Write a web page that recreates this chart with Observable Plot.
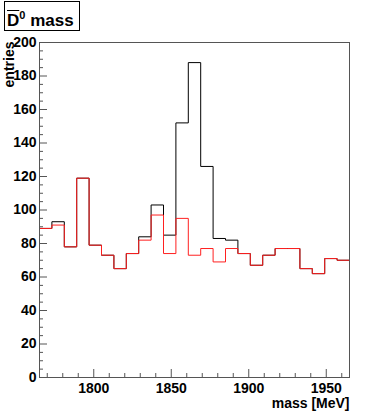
<!DOCTYPE html>
<html>
<head>
<meta charset="utf-8">
<script src="https://cdn.jsdelivr.net/npm/d3@7"></script>
<script src="https://cdn.jsdelivr.net/npm/@observablehq/plot@0.6"></script>
<style>
  html, body { margin: 0; padding: 0; background: #fff; }
  #wrap { position: relative; width: 382px; height: 419px; overflow: hidden; }
  #title {
    position: absolute; left: 4px; top: 1px; width: 76px; height: 30px;
    border: 1px solid #000; background: #fff; box-sizing: border-box;
    font-family: "Liberation Sans", Arial, sans-serif; font-weight: bold; font-size: 17px;
    color: #000; white-space: nowrap;
  }
  #title .txt { position: absolute; left: 2px; top: 9px; line-height: 20px; }
  #title .ov { text-decoration: overline; }
  #title sup { font-size: 11px; vertical-align: 7px; line-height: 0; }
</style>
</head>
<body>
<div id="wrap">
  <div id="chart"></div>
  <div id="title"><span class="txt"><span class="ov">D</span><sup>0</sup> mass</span></div>
</div>
<script>
// Bin low edges (MeV), bin width 8, range 1765–1965
const binLow = [1765, 1773, 1781, 1789, 1797, 1805, 1813, 1821, 1829, 1837, 1845, 1853, 1861,
                1869, 1877, 1885, 1893, 1901, 1909, 1917, 1925, 1933, 1941, 1949, 1957];
const binHighEnd = 1965;
// Black histogram (all candidates)
const blackCounts = [89, 93, 78, 119, 79, 73, 65, 74, 84, 103, 85, 152, 188,
                     126, 83, 82, 74, 67, 73, 77, 77, 65, 62, 71, 70];
// Red histogram (background)
const redCounts = [89, 91, 78, 119, 79, 73, 65, 74, 82, 97, 74, 95, 73,
                   77, 69, 77, 74, 67, 73, 77, 77, 65, 62, 71, 70];

const xMajor = [1800, 1850, 1900, 1950];
const xMinor = [1770, 1780, 1790, 1810, 1820, 1830, 1840, 1860, 1870, 1880, 1890,
                1910, 1920, 1930, 1940, 1960];
const yMajor = [0, 20, 40, 60, 80, 100, 120, 140, 160, 180, 200];
const yMinor = [5, 10, 15, 25, 30, 35, 45, 50, 55, 65, 70, 75, 85, 90, 95, 105, 110, 115,
                125, 130, 135, 145, 150, 155, 165, 170, 175, 185, 190, 195];

function steps(counts) {
  const pts = binLow.map((x, i) => ({x, y: counts[i]}));
  pts.push({x: binHighEnd, y: counts[counts.length - 1]});
  return pts;
}

const W = 382, H = 419, mL = 39, mR = 33, mT = 42, mB = 42;
const innerW = W - mL - mR, innerH = H - mT - mB;
const tickCol = "#555";

const chart = Plot.plot({
  width: W, height: H,
  marginLeft: mL, marginRight: mR, marginTop: mT, marginBottom: mB,
  style: {fontFamily: "'Liberation Sans', Arial, sans-serif", background: "#fff", color: "#000"},
  x: {domain: [1765, 1965], axis: null},
  y: {domain: [0, 200], axis: null},
  marks: [
    Plot.line(steps(blackCounts), {x: "x", y: "y", curve: "step-after", stroke: "#000", strokeWidth: 1}),
    Plot.line(steps(redCounts), {x: "x", y: "y", curve: "step-after", stroke: "#ff2020", strokeWidth: 1}),
    Plot.frame({stroke: tickCol, strokeWidth: 1}),
    Plot.ruleY(yMajor, {y: d => d, insetRight: innerW - 8, stroke: tickCol}),
    Plot.ruleY(yMinor, {y: d => d, insetRight: innerW - 4, stroke: tickCol}),
    Plot.ruleX(xMajor, {x: d => d, insetTop: innerH - 8, stroke: tickCol}),
    Plot.ruleX(xMinor, {x: d => d, insetTop: innerH - 4, stroke: tickCol}),
    Plot.axisY({ticks: yMajor, tickSize: 0, tickPadding: 3, fontSize: 14, fontWeight: "bold", label: null, tickFormat: d => String(d)}),
    Plot.axisX({ticks: xMajor, tickSize: 0, tickPadding: 6, fontSize: 14, fontWeight: "bold", label: null, tickFormat: d => String(d)}),
    Plot.text(["mass [MeV]"], {frameAnchor: "bottom-right", textAnchor: "end", lineAnchor: "top", dy: 21, fontSize: 14, fontWeight: "bold", fill: "#000"}),
    Plot.text(["entries"], {frameAnchor: "top-left", textAnchor: "end", lineAnchor: "bottom", rotate: -90, dx: -26, dy: -1, fontSize: 14, fontWeight: "bold", fill: "#000"})
  ]
});
document.getElementById("chart").appendChild(chart);
</script>
</body>
</html>
